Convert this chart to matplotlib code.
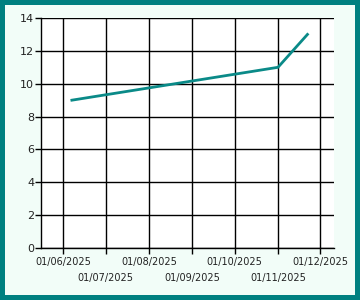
import matplotlib
matplotlib.use('Agg')
import matplotlib.pyplot as plt
from matplotlib.ticker import FixedLocator, FixedFormatter
import matplotlib.dates as mdates
from datetime import datetime

# data
dates = ['2025-06-07', '2025-11-01', '2025-11-22']
values = [9, 11, 13]
tick_dates = ['2025-06-01', '2025-07-01', '2025-08-01', '2025-09-01',
              '2025-10-01', '2025-11-01', '2025-12-01']
y_ticks = [0, 2, 4, 6, 8, 10, 12, 14]

x = [datetime.strptime(d, '%Y-%m-%d') for d in dates]
xt = [datetime.strptime(d, '%Y-%m-%d') for d in tick_dates]

fig = plt.figure(figsize=(3.6, 3.0), dpi=100)
fig.patch.set_facecolor('#f2fdf8')
fig.patch.set_edgecolor('#008080')
fig.patch.set_linewidth(6)

ax = fig.add_axes([0.114, 0.173, 0.814, 0.767])
ax.set_facecolor('white')
ax.plot(x, values, color='#0a8a88', linewidth=2)

ax.set_ylim(0, 14)
ax.set_yticks(y_ticks)
ax.set_xlim(datetime(2025, 5, 16), datetime(2025, 12, 11))

# staggered labels: even months on major ticks, odd ones on minor ticks (lower row)
top_row = xt[0::2]
low_row = xt[1::2]
ax.xaxis.set_major_locator(FixedLocator(mdates.date2num(top_row)))
ax.xaxis.set_major_formatter(FixedFormatter([d.strftime('%d/%m/%Y') for d in top_row]))
ax.xaxis.set_minor_locator(FixedLocator(mdates.date2num(low_row)))
ax.xaxis.set_minor_formatter(FixedFormatter([d.strftime('%d/%m/%Y') for d in low_row]))

ax.grid(True, which='both', color='black', linewidth=1)
ax.set_axisbelow(True)
for s in ['top', 'right']:
    ax.spines[s].set_visible(False)
ax.spines['left'].set_linewidth(1)
ax.spines['bottom'].set_linewidth(1)
ax.tick_params(axis='x', which='major', labelsize=7, length=4, width=1, pad=2.5)
ax.tick_params(axis='x', which='minor', labelsize=7, length=4, width=1, pad=14)
ax.tick_params(axis='y', labelsize=8, length=4, width=1, pad=1)
for lbl in ax.get_xticklabels(which='both') + ax.get_yticklabels():
    lbl.set_color('#222222')

fig.savefig('out.png', dpi=100, facecolor=fig.get_facecolor(), edgecolor=fig.get_edgecolor())
